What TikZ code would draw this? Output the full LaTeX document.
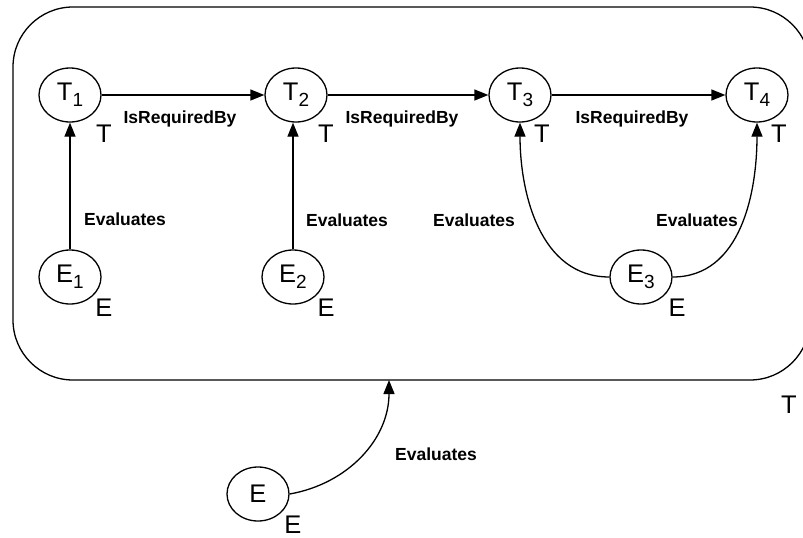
\documentclass[tikz,border=0pt]{standalone}
\usepackage{fontspec}
\setmainfont{Liberation Sans}
\usetikzlibrary{arrows.meta,shapes.geometric}

% subscript index inside a node
\newcommand{\nidx}[1]{{\fontsize{19}{19}\selectfont\raisebox{-6pt}{#1}}}

\begin{document}
\begin{tikzpicture}[x=1pt, y=-1pt,
  % ---- one style per kind of thing ------------------------------------
  obj/.style={ellipse, draw, line width=1.3pt, minimum width=62pt,
    minimum height=54pt, inner sep=0pt, font=\fontsize{25.5}{26}\selectfont},
  typ/.style={font=\fontsize{25.5}{26}\selectfont},
  rel/.style={font=\fontsize{17.5}{18}\selectfont\bfseries},
  link/.style={draw, line width=1.3pt, -{Triangle[length=14pt,width=11pt]}},
]
\useasboundingbox (0,0) rectangle (803,538);

% =====================================================================
%  OUTER TASK BOX
% =====================================================================
\node[draw, line width=1.3pt, rounded corners=60pt, minimum width=797pt,
      minimum height=373pt, inner sep=0pt] (box) at (411.5,193.5) {};
\node[typ] (boxT) at (789,405) {T};

% =====================================================================
%  ROW 1 : tasks
% =====================================================================
\node[obj] (T1) at (70,95)  {T\nidx{1}};
\node[obj] (T2) at (296,95) {T\nidx{2}};
\node[obj] (T3) at (520,95) {T\nidx{3}};
\node[obj] (T4) at (757,95) {T\nidx{4}};

\node[typ] (T1t) at (104,134) {T};
\node[typ] (T2t) at (326,134) {T};
\node[typ] (T3t) at (542,134) {T};
\node[typ] (T4t) at (779,134) {T};

% =====================================================================
%  ROW 2 : evaluations
% =====================================================================
\node[obj] (E1) at (70,277)  {E\nidx{1}};
\node[obj] (E2) at (293,277) {E\nidx{2}};
\node[obj] (E3) at (641,277) {E\nidx{3}};

\node[typ] (E1t) at (104,308) {E};
\node[typ] (E2t) at (326,308) {E};
\node[typ] (E3t) at (677,308) {E};

% evaluation of the whole box
\node[obj] (E)  at (258,494) {E};
\node[typ] (Et) at (293,525) {E};
\coordinate (hit) at (389,380);

% =====================================================================
%  RELATIONS
% =====================================================================
\draw[link] (T1) -- (T2);
\draw[link] (T2) -- (T3);
\draw[link] (T3) -- (T4);
\node[rel, anchor=base] (r1) at (180,123) {IsRequiredBy};
\node[rel, anchor=base] (r2) at (402,123) {IsRequiredBy};
\node[rel, anchor=base] (r3) at (632,123) {IsRequiredBy};

\draw[link] (E1.north) -- (E1.north |- T1.south);
\draw[link] (E2.north) -- (E2.north |- T2.south);
\draw[link] (E3.west) to[out=180, in=-90] (T3.south);
\draw[link] (E3.east) to[out=0, in=-90] (T4.south);
\draw[link] (E.east) to[out=10, in=-90] (hit);

\node[rel] (v1) at (125,219) {Evaluates};
\node[rel] (v2) at (347,220) {Evaluates};
\node[rel] (v3) at (474,220) {Evaluates};
\node[rel] (v4) at (697,220) {Evaluates};
\node[rel] (v5) at (436,454) {Evaluates};

\end{tikzpicture}
\end{document}
